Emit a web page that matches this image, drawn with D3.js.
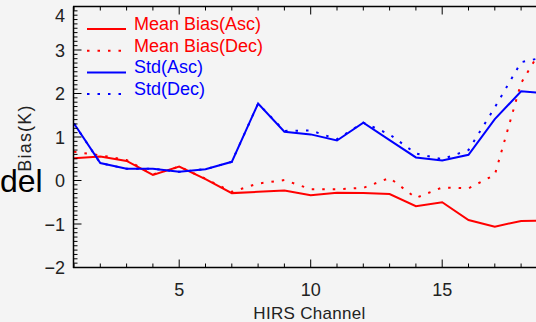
<!DOCTYPE html>
<html><head><meta charset="utf-8">
<script src="https://cdn.jsdelivr.net/npm/d3@7"></script>
<style>html,body{margin:0;padding:0;background:#f4f4f4;overflow:hidden}</style>
</head><body>
<script>
const channels = [1,2,3,4,5,6,7,8,9,10,11,12,13,14,15,16,17,18,19];
const meanBiasAsc = [0.51,0.55,0.45,0.13,0.32,0.03,-0.29,-0.26,-0.23,-0.34,-0.28,-0.29,-0.31,-0.59,-0.50,-0.91,-1.06,-0.93,-0.92];
const meanBiasDec = [0.66,0.58,0.47,0.14,0.32,0.04,-0.26,-0.07,0.01,-0.20,-0.20,-0.17,0.06,-0.40,-0.16,-0.18,0.13,2.24,3.25];
const stdAsc = [1.31,0.40,0.27,0.27,0.20,0.26,0.43,1.77,1.12,1.06,0.92,1.33,0.93,0.53,0.46,0.59,1.41,2.05,2.00];
const stdDec = [1.31,0.40,0.27,0.27,0.20,0.26,0.43,1.77,1.14,1.15,0.95,1.33,1.06,0.62,0.49,0.70,1.68,2.72,2.85];
const yTicks = [-2,-1,0,1,2,3,4];
const xTicks = [5,10,15];
const seriesNames = ["Mean Bias(Asc)","Mean Bias(Dec)","Std(Asc)","Std(Dec)"];
const seriesColors = ["#ff0000","#ff0000","#0000ff","#0000ff"];
const seriesDash = [null,"2.5,8",null,"2.5,8"];
const seriesData = [meanBiasAsc, meanBiasDec, stdAsc, stdDec];

const W=536,H=322;
const svg=d3.select("body").append("svg").attr("width",W).attr("height",H).style("display","block");
svg.append("rect").attr("width",W).attr("height",H).attr("fill","#f4f4f4");
const font="'Liberation Sans', Arial, sans-serif";
const x=d3.scaleLinear().domain([1,19]).range([74,547.4]);
const y=d3.scaleLinear().domain([-2,4]).range([267.5,6.5]);

svg.append("clipPath").attr("id","pc").append("rect").attr("x",74).attr("y",6).attr("width",W-74).attr("height",262);

const line=d3.line().x((d,i)=>x(channels[i])).y(d=>y(d));
const g=svg.append("g").attr("clip-path","url(#pc)");
seriesData.forEach((s,i)=>{
  g.append("path").datum(s).attr("d",line).attr("fill","none")
   .attr("stroke",seriesColors[i]).attr("stroke-width",2)
   .attr("stroke-dasharray",seriesDash[i]);
});

const ax=svg.append("g").attr("stroke","#000").attr("fill","none");
ax.append("line").attr("x1",73.5).attr("x2",73.5).attr("y1",y(4)).attr("y2",y(-2)+0.5).attr("stroke-width",1.5);
ax.append("line").attr("x1",73).attr("x2",W).attr("y1",y(-2)).attr("y2",y(-2)).attr("stroke-width",1.5);
ax.append("line").attr("x1",73).attr("x2",W).attr("y1",y(4)).attr("y2",y(4)).attr("stroke-width",1.5);
const yMinor=d3.range(-20,41).map(v=>v/10);
yMinor.forEach(v=>{
  const major=Math.abs(v-Math.round(v))<1e-6;
  ax.append("line").attr("x1",73.5).attr("x2",73.5+(major?8:4)).attr("y1",y(v)).attr("y2",y(v)).attr("stroke-width",1);
});
d3.range(1,20).forEach(c=>{
  const major=c%5===0;
  const L=major?8:4;
  ax.append("line").attr("x1",x(c)).attr("x2",x(c)).attr("y1",y(-2)).attr("y2",y(-2)-L).attr("stroke-width",1);
  ax.append("line").attr("x1",x(c)).attr("x2",x(c)).attr("y1",y(4)).attr("y2",y(4)+L).attr("stroke-width",1);
});
yTicks.forEach(v=>{
  svg.append("text").attr("x",65).attr("y",Math.max(y(v)+6.5,22)).attr("text-anchor","end")
   .attr("font-family",font).attr("font-size",18).attr("fill","#222").text(v<0?"\u2212"+Math.abs(v):v);
});
xTicks.forEach(v=>{
  svg.append("text").attr("x",x(v)).attr("y",296).attr("text-anchor","middle")
   .attr("font-family",font).attr("font-size",18).attr("fill","#222").text(v);
});
svg.append("text").attr("x",309.5).attr("y",319).attr("text-anchor","middle")
  .attr("font-family",font).attr("font-size",17).attr("letter-spacing",0.3).attr("fill","#222").text("HIRS Channel");
svg.append("text").attr("transform","translate(31,138) rotate(-90)").attr("text-anchor","middle")
  .attr("font-family",font).attr("font-size",18).attr("letter-spacing",1.2).attr("fill","#222").text("Bias(K)");
svg.append("text").attr("x",0).attr("y",192)
  .attr("font-family",font).attr("font-size",32).attr("fill","#000").text("del");

seriesNames.forEach((n,i)=>{
  const ly=29+i*21.7;
  svg.append("line").attr("x1",87).attr("x2",126).attr("y1",ly).attr("y2",ly)
    .attr("stroke",seriesColors[i]).attr("stroke-width",2).attr("stroke-dasharray",seriesDash[i]);
  svg.append("text").attr("x",134).attr("y",ly+1).attr("font-family",font).attr("font-size",18)
    .attr("fill",seriesColors[i]).text(n);
});
</script>
</body></html>
